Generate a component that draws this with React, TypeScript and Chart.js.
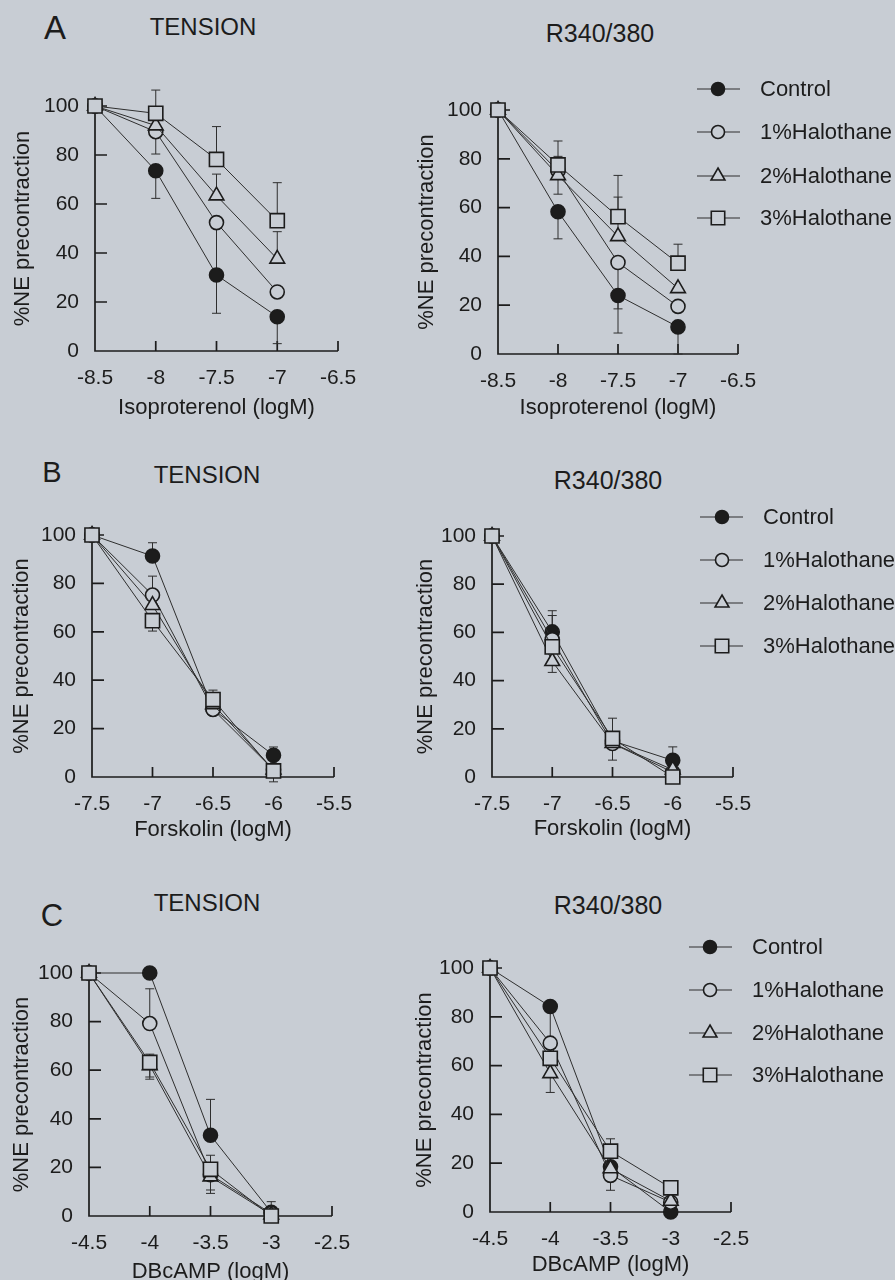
import React, { useEffect, useRef } from "react";
import { Chart, registerables } from "chart.js";

Chart.register(...registerables);

const BG = "#c8cdd4";
const INK = "#1c1c1c";
const LINE = "#2e2e2e";
const FONT = "'Liberation Sans', Arial, Helvetica, sans-serif";

// ---------- data ----------
const seriesNames = ["Control", "1%Halothane", "2%Halothane", "3%Halothane"];
const yTicks = [0, 20, 40, 60, 80, 100];

const isoX = [-8.5, -8, -7.5, -7];
const isoTicks = [-8.5, -8, -7.5, -7, -6.5];
const forX = [-7.5, -7, -6.5, -6];
const forTicks = [-7.5, -7, -6.5, -6, -5.5];
const dbX = [-4.5, -4, -3.5, -3];
const dbTicks = [-4.5, -4, -3.5, -3, -2.5];

// A - TENSION (isoproterenol)
const aTenCtl = [100, 73.6, 31, 14];
const aTenCtlLo = [null, 62.3, null, 3];
const aTen1 = [100, 89.5, 52.4, 24.1];
const aTen1Lo = [null, 80.4, 15.4, null];
const aTen2 = [100, 92, 63.4, 37.6];
const aTen2Hi = [null, null, 72.2, 48.7];
const aTen3 = [100, 97, 78.2, 53.2];
const aTen3Hi = [null, 106.5, 91.6, 68.7];

// A - R340/380
const aRatCtl = [100, 58.3, 24.0, 11.1];
const aRatCtlLo = [null, 47.2, 8.6, 0];
const aRat1 = [100, 75, 37.5, 19.5];
const aRat1Lo = [null, 65.5, 18.5, null];
const aRat2 = [100, 73.2, 48.2, 26.9];
const aRat2Hi = [null, 81, 64.3, null];
const aRat3 = [100, 77.5, 56.3, 37.2];
const aRat3Hi = [null, 87.3, 73.2, 45];

// B - TENSION (forskolin)
const bTenCtl = [100, 91.3, 28, 9];
const bTenCtlHi = [null, 96.8, null, 12.4];
const bTen1 = [100, 75.2, 27.9, 3];
const bTen1Hi = [null, 83, null, null];
const bTen2 = [100, 71, 30, 3];
const bTen3 = [100, 64.6, 32, 2.5];
const bTen3Hi = [null, null, 35.9, null];
const bTen3Lo = [null, 60.3, null, -2];

// B - R340/380
const bRatCtl = [100, 60.2, 15, 6.9];
const bRatCtlHi = [null, 69, null, 12.5];
const bRat1 = [100, 57, 13.9, 2];
const bRat1Hi = [null, 67, null, null];
const bRat2 = [100, 48, 14, 3];
const bRat2Lo = [null, 43.4, null, null];
const bRat3 = [100, 54, 16, 0];
const bRat3Hi = [null, null, 24.4, null];
const bRat3Lo = [null, null, 7, null];

// C - TENSION (DBcAMP)
const cTenCtl = [100, 100, 33.2, 1.5];
const cTenCtlHi = [null, null, 48, 5.9];
const cTen1 = [100, 79.2, 17, 1];
const cTen1Hi = [null, 93.5, null, null];
const cTen2 = [100, 62, 16.2, 0.5];
const cTen2Lo = [null, 56.3, 9.3, null];
const cTen3 = [100, 63.2, 19.2, 0];
const cTen3Hi = [null, 66.6, 25, null];
const cTen3Lo = [null, 57.2, 10.7, null];

// C - R340/380
const cRatCtl = [100, 84.2, 18.5, 0];
const cRatCtlLo = [null, 69, null, null];
const cRat1 = [100, 69.2, 15, 4];
const cRat1Lo = [null, null, 8.9, null];
const cRat2 = [100, 56.8, 17.8, 4.5];
const cRat2Lo = [null, 49, null, null];
const cRat3 = [100, 63, 24.9, 9.9];
const cRat3Hi = [null, null, 30, null];

// ---------- styles / layout ----------
const STYLES = [
  { style: "circle", r: 7, fill: INK, lr: 6.5 },
  { style: "circle", r: 7, fill: BG, lr: 6.5 },
  { style: "triangle", r: 8.5, fill: BG, lr: 8 },
  { style: "rect", r: 10, fill: BG, lr: 9.5 },
];

type Series = { values: number[]; hi?: (number | null)[]; lo?: (number | null)[] };

const PANELS = [
  {
    xVals: isoX, xTicks: isoTicks, xTitle: "Isoproterenol (logM)",
    series: [
      { values: aTenCtl, lo: aTenCtlLo },
      { values: aTen1, lo: aTen1Lo },
      { values: aTen2, hi: aTen2Hi },
      { values: aTen3, hi: aTen3Hi },
    ],
    canvas: { x: 0, y: 45, w: 420, h: 385 },
    area: { L: 95, T: 106, R: 338, B: 351 }, yTitleX: 23, xTitleY: 408,
  },
  {
    xVals: isoX, xTicks: isoTicks, xTitle: "Isoproterenol (logM)",
    series: [
      { values: aRatCtl, lo: aRatCtlLo },
      { values: aRat1, lo: aRat1Lo },
      { values: aRat2, hi: aRat2Hi },
      { values: aRat3, hi: aRat3Hi },
    ],
    canvas: { x: 395, y: 45, w: 500, h: 385 },
    area: { L: 498, T: 110, R: 738, B: 354 }, yTitleX: 427, xTitleY: 408,
    legend: { rows: [89, 132, 176, 218], x1: 697, x2: 740, mx: 718, tx: 760 },
  },
  {
    xVals: forX, xTicks: forTicks, xTitle: "Forskolin (logM)",
    series: [
      { values: bTenCtl, hi: bTenCtlHi },
      { values: bTen1, hi: bTen1Hi },
      { values: bTen2 },
      { values: bTen3, hi: bTen3Hi, lo: bTen3Lo },
    ],
    canvas: { x: 0, y: 490, w: 420, h: 365 },
    area: { L: 92, T: 535, R: 334, B: 777 }, yTitleX: 22, xTitleY: 830,
  },
  {
    xVals: forX, xTicks: forTicks, xTitle: "Forskolin (logM)",
    series: [
      { values: bRatCtl, hi: bRatCtlHi },
      { values: bRat1, hi: bRat1Hi },
      { values: bRat2, lo: bRat2Lo },
      { values: bRat3, hi: bRat3Hi, lo: bRat3Lo },
    ],
    canvas: { x: 395, y: 490, w: 500, h: 365 },
    area: { L: 492, T: 536, R: 733, B: 777 }, yTitleX: 426, xTitleY: 829,
    legend: { rows: [517, 560, 603, 646], x1: 700, x2: 743, mx: 722, tx: 763 },
  },
  {
    xVals: dbX, xTicks: dbTicks, xTitle: "DBcAMP (logM)",
    series: [
      { values: cTenCtl, hi: cTenCtlHi },
      { values: cTen1, hi: cTen1Hi },
      { values: cTen2, lo: cTen2Lo },
      { values: cTen3, hi: cTen3Hi, lo: cTen3Lo },
    ],
    canvas: { x: 0, y: 925, w: 420, h: 370 },
    area: { L: 89, T: 973, R: 332, B: 1216 }, yTitleX: 22, xTitleY: 1272,
  },
  {
    xVals: dbX, xTicks: dbTicks, xTitle: "DBcAMP (logM)",
    series: [
      { values: cRatCtl, lo: cRatCtlLo },
      { values: cRat1, lo: cRat1Lo },
      { values: cRat2, lo: cRat2Lo },
      { values: cRat3, hi: cRat3Hi },
    ],
    canvas: { x: 395, y: 925, w: 500, h: 370 },
    area: { L: 490, T: 968, R: 731, B: 1212 }, yTitleX: 425, xTitleY: 1265,
    legend: { rows: [947, 990, 1033, 1075], x1: 689, x2: 732, mx: 710, tx: 752 },
  },
];

const LABELS = [
  { text: "A", x: 55, y: 27, size: 33 },
  { text: "TENSION", x: 203, y: 27, size: 24 },
  { text: "R340/380", x: 600, y: 33, size: 25 },
  { text: "B", x: 52, y: 472, size: 29 },
  { text: "TENSION", x: 207, y: 475, size: 24 },
  { text: "R340/380", x: 608, y: 480, size: 25 },
  { text: "C", x: 52, y: 915, size: 31 },
  { text: "TENSION", x: 207, y: 903, size: 24 },
  { text: "R340/380", x: 608, y: 905, size: 25 },
];

function drawMarker(ctx: CanvasRenderingContext2D, style: string, x: number, y: number, r: number, fill: string) {
  ctx.beginPath();
  if (style === "circle") {
    ctx.arc(x, y, r, 0, Math.PI * 2);
  } else if (style === "triangle") {
    let rad = 0;
    ctx.moveTo(x + Math.sin(rad) * r, y - Math.cos(rad) * r);
    rad += (2 * Math.PI) / 3;
    ctx.lineTo(x + Math.sin(rad) * r, y - Math.cos(rad) * r);
    rad += (2 * Math.PI) / 3;
    ctx.lineTo(x + Math.sin(rad) * r, y - Math.cos(rad) * r);
    ctx.closePath();
  } else {
    const s = r * Math.SQRT1_2;
    ctx.rect(x - s, y - s, 2 * s, 2 * s);
  }
  ctx.fillStyle = fill;
  ctx.fill();
  ctx.lineWidth = 1.6;
  ctx.strokeStyle = INK;
  ctx.stroke();
}

const axesPlugin = {
  id: "inwardAxes",
  beforeDatasetsDraw(chart: any) {
    const { ctx, chartArea, scales } = chart;
    const { left, right, top, bottom } = chartArea;
    const x = scales.x;
    const y = scales.y;
    ctx.save();
    ctx.strokeStyle = INK;
    ctx.lineWidth = 1.7;
    ctx.beginPath();
    ctx.moveTo(left, top);
    ctx.lineTo(left, bottom);
    ctx.lineTo(right, bottom);
    y.ticks.forEach((t: any) => {
      if (t.value === 0) return;
      const py = y.getPixelForValue(t.value);
      ctx.moveTo(left, py);
      ctx.lineTo(left + 12, py);
    });
    x.ticks.forEach((t: any, i: number) => {
      if (i === 0) return;
      const px = x.getPixelForValue(t.value);
      ctx.moveTo(px, bottom);
      ctx.lineTo(px, bottom - 10);
    });
    ctx.stroke();

    // error bars
    ctx.strokeStyle = LINE;
    ctx.lineWidth = 1;
    chart.data.datasets.forEach((ds: any) => {
      ds.data.forEach((pt: any, j: number) => {
        const px = x.getPixelForValue(pt.x);
        const py = y.getPixelForValue(pt.y);
        [ds.errHi, ds.errLo].forEach((arr: any) => {
          if (!arr || arr[j] === null || arr[j] === undefined) return;
          const ey = y.getPixelForValue(arr[j]);
          ctx.beginPath();
          ctx.moveTo(px, py);
          ctx.lineTo(px, ey);
          ctx.moveTo(px - 4.5, ey);
          ctx.lineTo(px + 4.5, ey);
          ctx.stroke();
        });
      });
    });
    ctx.restore();
  },
};

function Panel({ cfg }: { cfg: any }) {
  const ref = useRef<HTMLCanvasElement>(null);
  const c = cfg.canvas;
  useEffect(() => {
    if (!ref.current) return;
    const a = cfg.area;
    const lh = 22 * 1.2;
    const plugins: any[] = [axesPlugin];
    if (cfg.legend) {
      const lg = cfg.legend;
      plugins.push({
        id: "lineLegend",
        afterDraw(chart: any) {
          const ctx = chart.ctx;
          ctx.save();
          seriesNames.forEach((name, i) => {
            const ry = lg.rows[i] - c.y;
            ctx.beginPath();
            ctx.strokeStyle = LINE;
            ctx.lineWidth = 1.2;
            ctx.moveTo(lg.x1 - c.x, ry);
            ctx.lineTo(lg.x2 - c.x, ry);
            ctx.stroke();
            drawMarker(ctx, STYLES[i].style, lg.mx - c.x, ry, STYLES[i].lr, STYLES[i].fill);
            ctx.fillStyle = INK;
            ctx.font = `22px ${FONT}`;
            ctx.textAlign = "left";
            ctx.textBaseline = "middle";
            ctx.fillText(name, lg.tx - c.x, ry + 1);
          });
          ctx.restore();
        },
      });
    }
    const chart = new Chart(ref.current, {
      type: "line",
      data: {
        datasets: cfg.series.map((s: Series, i: number) => ({
          label: seriesNames[i],
          data: cfg.xVals.map((xv: number, j: number) => ({ x: xv, y: s.values[j] })),
          errHi: s.hi,
          errLo: s.lo,
          borderColor: LINE,
          borderWidth: 1,
          pointStyle: STYLES[i].style,
          pointRadius: STYLES[i].r,
          pointBackgroundColor: STYLES[i].fill,
          pointBorderColor: INK,
          pointBorderWidth: 1.6,
          order: 3 - i,
          clip: false,
          tension: 0,
          fill: false,
        })) as any,
      },
      options: {
        responsive: false,
        animation: false,
        events: [],
        layout: { padding: { left: 0, top: a.T - c.y, right: c.x + c.w - a.R, bottom: 0 } },
        plugins: { legend: { display: false }, tooltip: { enabled: false }, title: { display: false } },
        scales: {
          x: {
            type: "linear",
            min: cfg.xTicks[0],
            max: cfg.xTicks[cfg.xTicks.length - 1],
            afterBuildTicks: (s: any) => {
              s.ticks = cfg.xTicks.map((v: number) => ({ value: v }));
            },
            afterFit: (s: any) => {
              s.height = c.y + c.h - a.B;
            },
            grid: { display: false, drawTicks: false },
            border: { display: false },
            ticks: {
              padding: 15,
              autoSkip: false,
              maxRotation: 0,
              color: INK,
              font: { size: 21, family: FONT },
              callback: (v: any) => String(v),
            },
            title: {
              display: true,
              text: cfg.xTitle,
              color: INK,
              font: { size: 22, family: FONT },
              padding: { top: 0, bottom: c.y + c.h - cfg.xTitleY - lh / 2 },
            },
          },
          y: {
            type: "linear",
            min: 0,
            max: 100,
            afterBuildTicks: (s: any) => {
              s.ticks = yTicks.map((v) => ({ value: v }));
            },
            afterFit: (s: any) => {
              s.width = a.L - c.x;
            },
            grid: { display: false, drawTicks: false },
            border: { display: false },
            ticks: {
              padding: 16,
              color: INK,
              font: { size: 21, family: FONT },
              callback: (v: any) => String(v),
            },
            title: {
              display: true,
              text: "%NE precontraction",
              color: INK,
              font: { size: 22, family: FONT },
              padding: { top: cfg.yTitleX - c.x - lh / 2, bottom: 0 },
            },
          },
        },
      } as any,
      plugins,
    });
    return () => chart.destroy();
  }, []);
  return (
    <canvas
      ref={ref}
      width={c.w}
      height={c.h}
      style={{ position: "absolute", left: c.x, top: c.y, width: c.w, height: c.h }}
    />
  );
}

export default function App() {
  Chart.defaults.font.family = FONT;
  Chart.defaults.color = INK;
  return (
    <div
      style={{
        position: "absolute",
        left: 0,
        top: 0,
        width: 895,
        height: 1280,
        overflow: "hidden",
        background: BG,
        fontFamily: FONT,
        color: INK,
      }}
    >
      {LABELS.map((l, i) => (
        <div
          key={i}
          style={{
            position: "absolute",
            left: l.x,
            top: l.y,
            transform: "translate(-50%, -50%)",
            fontSize: l.size,
            lineHeight: 1,
            whiteSpace: "nowrap",
          }}
        >
          {l.text}
        </div>
      ))}
      {PANELS.map((p, i) => (
        <Panel key={i} cfg={p} />
      ))}
    </div>
  );
}
